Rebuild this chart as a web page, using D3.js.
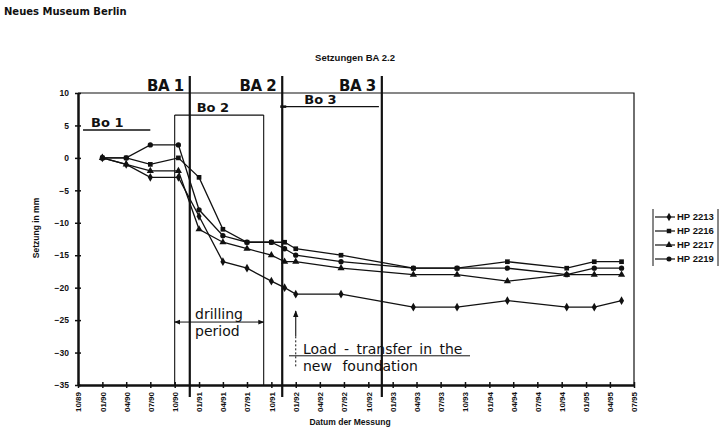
<!DOCTYPE html>
<html>
<head>
<meta charset="utf-8">
<script src="https://cdn.jsdelivr.net/npm/d3@7"></script>
<style>
  body { margin: 0; background: #fff; }
  svg { display: block; }
  text { fill: #111; }
</style>
</head>
<body>
<script>
// Chart size
const width = 724;
const height = 437;

// Measurement dates (shared by all points)
const dates = ["1990-01-01", "1990-04-01", "1990-07-01", "1990-10-15", "1991-01-01",
  "1991-04-01", "1991-07-01", "1991-10-01", "1991-11-20", "1992-01-01", "1992-06-20",
  "1993-03-20", "1993-09-01", "1994-03-10", "1994-10-20", "1995-02-01", "1995-05-15"];

// Settlement in mm per gauge
const hp2213 = [0, -1, -3, -3, -9, -16, -17, -19, -20, -21, -21, -23, -23, -22, -23, -23, -22];
const hp2216 = [0, 0, -1, 0, -3, -11, -13, -13, -13, -14, -15, -17, -17, -16, -17, -16, -16];
const hp2217 = [0, -1, -2, -2, -11, -13, -14, -15, -16, -16, -17, -18, -18, -19, -18, -18, -18];
const hp2219 = [0, 0, 2, 2, -8, -12, -13, -13, -14, -15, -16, -17, -17, -17, -18, -17, -17];

const seriesNames = ["HP 2213", "HP 2216", "HP 2217", "HP 2219"];
const seriesValues = [hp2213, hp2216, hp2217, hp2219];
const seriesSymbols = [d3.symbolDiamond, d3.symbolSquare, d3.symbolTriangle, d3.symbolCircle];

// Axis ticks
const tickDates = ["1989-10-01", "1990-01-01", "1990-04-01", "1990-07-01", "1990-10-01",
  "1991-01-01", "1991-04-01", "1991-07-01", "1991-10-01", "1992-01-01", "1992-04-01",
  "1992-07-01", "1992-10-01", "1993-01-01", "1993-04-01", "1993-07-01", "1993-10-01",
  "1994-01-01", "1994-04-01", "1994-07-01", "1994-10-01", "1995-01-01", "1995-04-01",
  "1995-07-01"];
const yTicks = [10, 5, 0, -5, -10, -15, -20, -25, -30, -35];

// Hand-drawn construction phases (BA) and drilling periods (Bo)
const phaseDates = ["1990-11-27", "1991-11-11", "1992-11-21"];
const phaseLabels = ["BA 1", "BA 2", "BA 3"];
const boLabels = ["Bo 1", "Bo 2", "Bo 3"];
const boStart = ["1989-10-20", "1990-10-01", "1991-11-11"];
const boEnd = ["1990-07-01", "1991-09-02", "1992-11-10"];
const boLevel = [4.3, 6.6, 7.9];

const parse = d3.timeParse("%Y-%m-%d");

const svg = d3.select("body").append("svg")
  .attr("width", width)
  .attr("height", height);

const x = d3.scaleTime()
  .domain([parse("1989-10-01"), parse("1995-07-01")])
  .range([78, 634]);
const y = d3.scaleLinear()
  .domain([-35, 10])
  .range([385, 93]);

// Titles
svg.append("text").attr("x", 4).attr("y", 15)
  .style("font", "bold 10px 'DejaVu Sans', sans-serif")
  .text("Neues Museum Berlin");
svg.append("text").attr("x", 355).attr("y", 61).attr("text-anchor", "middle")
  .style("font", "bold 9.5px 'Liberation Sans', Arial, sans-serif")
  .text("Setzungen BA 2.2");
svg.append("text").attr("x", 350).attr("y", 425).attr("text-anchor", "middle")
  .style("font", "bold 8.5px 'Liberation Sans', Arial, sans-serif")
  .text("Datum der Messung");
svg.append("text").attr("transform", "translate(39,228) rotate(-90)")
  .attr("text-anchor", "middle")
  .style("font", "bold 8.5px 'Liberation Sans', Arial, sans-serif")
  .text("Setzung in mm");

// Plot frame (top and right)
svg.append("path")
  .attr("d", `M${x.range()[0]},${y(10)}H${x.range()[1]}V${y(-35)}`)
  .attr("fill", "none").attr("stroke", "#111").attr("stroke-width", 1.2);

// Y axis
const yAxis = svg.append("g").attr("transform", `translate(${x.range()[0]},0)`)
  .call(d3.axisLeft(y).tickValues(yTicks).tickSize(0).tickPadding(9));
yAxis.select(".domain").attr("stroke", "#111").attr("stroke-width", 2.5);
yAxis.selectAll("text").style("font", "bold 8.5px 'Liberation Sans', Arial, sans-serif")
  .attr("fill", "#111");
yAxis.selectAll(".tick").append("line")
  .attr("x1", -3).attr("x2", 3).attr("stroke", "#111").attr("stroke-width", 1.5);

// X axis
const xAxis = svg.append("g").attr("transform", `translate(0,${y(-35)})`)
  .call(d3.axisBottom(x).tickValues(tickDates.map(parse)).tickFormat(d3.timeFormat("%m/%y"))
    .tickSize(0));
xAxis.select(".domain").attr("stroke", "#111").attr("stroke-width", 2.5);
xAxis.selectAll(".tick").append("line")
  .attr("y1", -3).attr("y2", 3).attr("stroke", "#111").attr("stroke-width", 1.5);
xAxis.selectAll("text")
  .style("font", "bold 8px 'Liberation Sans', Arial, sans-serif")
  .attr("fill", "#111")
  .attr("text-anchor", "end")
  .attr("transform", "translate(0,7) rotate(-90)")
  .attr("x", 0).attr("y", 0).attr("dy", "0.35em");

// Series lines and markers
const line = d3.line()
  .x((d, i) => x(parse(dates[i])))
  .y(d => y(d));

seriesValues.forEach((vals, k) => {
  svg.append("path")
    .attr("d", line(vals))
    .attr("fill", "none").attr("stroke", "#111").attr("stroke-width", 1.3);
  svg.append("g").selectAll("path")
    .data(vals)
    .join("path")
    .attr("transform", (d, i) => `translate(${x(parse(dates[i]))},${y(d)})`)
    .attr("d", d3.symbol().type(seriesSymbols[k]).size(22))
    .attr("fill", "#111");
});

// Hand-drawn annotations
const hand = "'DejaVu Sans', sans-serif";
const thin = (x1, y1, x2, y2, w) => svg.append("line")
  .attr("x1", x1).attr("y1", y1).attr("x2", x2).attr("y2", y2)
  .attr("stroke", "#111").attr("stroke-width", w || 1.2);

// Construction phase boundaries
phaseDates.forEach((d, i) => {
  const px = x(parse(d));
  thin(px, 76, px, 397, 2.2);
  svg.append("text").attr("x", px - 6).attr("y", 91).attr("text-anchor", "end")
    .style("font", `bold 15px ${hand}`).style("letter-spacing", "-0.5px")
    .text(phaseLabels[i]);
});

// Drilling brackets
boLabels.forEach((lab, i) => {
  const x1 = x(parse(boStart[i]));
  const x2 = x(parse(boEnd[i]));
  const py = y(boLevel[i]);
  thin(x1, py, x2, py, 1.3);
  svg.append("text").attr("x", x1 + (i === 0 ? 8 : 22)).attr("y", py - 3)
    .style("font", `bold 13px ${hand}`)
    .text(lab);
});
// Bo 2 bracket ends
thin(x(parse(boStart[1])), y(boLevel[1]), x(parse(boStart[1])), y(-35), 1.1);
thin(x(parse(boEnd[1])), y(boLevel[1]), x(parse(boEnd[1])), y(-35), 1.1);
// Bo 3 start tick
thin(x(parse(boStart[2])) - 2, y(boLevel[2]), x(parse(boStart[2])) + 4, y(boLevel[2]), 2.5);

// Drilling period arrow
const defs = svg.append("defs");
defs.append("marker").attr("id", "ah").attr("viewBox", "0 0 10 10")
  .attr("refX", 9).attr("refY", 5).attr("markerWidth", 6).attr("markerHeight", 6)
  .attr("orient", "auto-start-reverse")
  .append("path").attr("d", "M0,1L10,5L0,9Z").attr("fill", "#111");

const ay = y(-25.3);
svg.append("line")
  .attr("x1", x(parse(boStart[1]))).attr("y1", ay)
  .attr("x2", x(parse(boEnd[1]))).attr("y2", ay)
  .attr("stroke", "#111").attr("stroke-width", 1)
  .attr("marker-start", "url(#ah)").attr("marker-end", "url(#ah)");
svg.append("text").attr("x", 195).attr("y", ay - 3)
  .style("font", `14px ${hand}`).text("drilling");
svg.append("text").attr("x", 195).attr("y", ay + 14)
  .style("font", `14px ${hand}`).text("period");

// Load transfer arrow
const lx = x(parse("1992-01-01"));
svg.append("line")
  .attr("x1", lx).attr("y1", y(-27.5)).attr("x2", lx).attr("y2", y(-23.6))
  .attr("stroke", "#111").attr("stroke-width", 1.1)
  .attr("marker-end", "url(#ah)");
svg.append("line")
  .attr("x1", lx).attr("y1", y(-27.5)).attr("x2", lx).attr("y2", y(-32.4))
  .attr("stroke", "#111").attr("stroke-width", 1).attr("stroke-dasharray", "2,2");
const ly = y(-30.5);
thin(289, ly, 470, ly, 1);
svg.append("text").attr("x", 303).attr("y", ly - 2)
  .style("font", `14px ${hand}`).style("word-spacing", "3px")
  .text("Load - transfer in the");
svg.append("text").attr("x", 303).attr("y", ly + 15)
  .style("font", `14px ${hand}`).style("word-spacing", "6px")
  .text("new foundation");

// Legend
const legend = svg.append("g").attr("transform", "translate(653,209)");
legend.append("path").attr("d", "M0,0V57M65,0V57")
  .attr("stroke", "#111").attr("stroke-width", 1).attr("fill", "none");
seriesNames.forEach((name, i) => {
  const gy = 8 + i * 14;
  legend.append("line").attr("x1", 2).attr("x2", 22).attr("y1", gy).attr("y2", gy)
    .attr("stroke", "#111").attr("stroke-width", 1.2);
  legend.append("path").attr("transform", `translate(16,${gy})`)
    .attr("d", d3.symbol().type(seriesSymbols[i]).size(20)).attr("fill", "#111");
  legend.append("text").attr("x", 24).attr("y", gy).attr("dy", "0.35em")
    .style("font", "bold 9.5px 'Liberation Sans', Arial, sans-serif")
    .text(name);
});
</script>
</body>
</html>
